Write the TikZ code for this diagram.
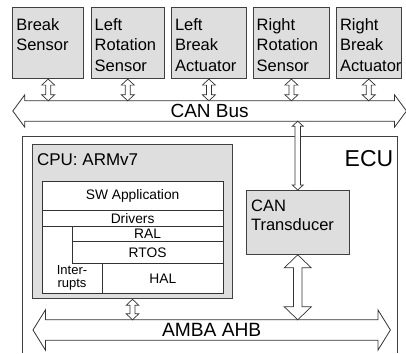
\documentclass[tikz,border=0pt]{standalone}
\usepackage{fontspec}
\setmainfont{Liberation Sans}
\usetikzlibrary{positioning}
\usetikzlibrary{calc}

% hollow double arrow between two points on one vertical
\newcommand{\vlink}[5]{%
  \draw[linkarrow] let \p1=(#1), \p2=(#2) in
    (\x1,\y1) -- (\x1+#4,\y1-#5) -- (\x1+#3,\y1-#5) -- (\x1+#3,\y2+#5)
    -- (\x1+#4,\y2+#5) -- (\x1,\y2) -- (\x1-#4,\y2+#5) -- (\x1-#3,\y2+#5)
    -- (\x1-#3,\y1-#5) -- (\x1-#4,\y1-#5) -- cycle;}

% bus outline round a (shaft) node
\newcommand{\hbus}[3]{%
  \draw[busline] let \p1=(#1.north west), \p2=(#1.south east), \p3=(#1.west) in
    (\x1-#2,\y3) -- (\x1,\y1+#3) -- (\x1,\y1) -- (\x2,\y1) -- (\x2,\y1+#3)
    -- (\x2+#2,\y3) -- (\x2,\y2-#3) -- (\x2,\y2) -- (\x1,\y2) -- (\x1,\y2-#3) -- cycle;}

\begin{document}
\begin{tikzpicture}[x=1pt,y=-1pt,
  box/.style={draw=black!75, fill=black!13, line width=0.8pt, anchor=north west, inner sep=0pt},
  boxtext/.style={align=left, inner sep=0pt, font=\fontsize{16.5}{20.5}\selectfont},
  layer/.style={draw=black!80, fill=white, line width=0.8pt, anchor=north west, inner sep=0pt,
    font=\fontsize{13.8}{14}\selectfont},
  busline/.style={draw=black!80, line width=0.8pt, line join=miter},
  linkarrow/.style={draw=black!80, fill=white, line width=0.7pt},
  frame/.style={draw=black!75, line width=0.8pt}]

\useasboundingbox (0,0) rectangle (406,353);

% sensors and actuators
\node[box, minimum width=71, minimum height=71] (bs) at (12.3,7.3) {};
\node[box, minimum width=73.3, minimum height=71] (lrs) at (90.7,7.3) {};
\node[box, minimum width=75, minimum height=71] (lba) at (171,7.3) {};
\node[box, minimum width=76.6, minimum height=71] (rrs) at (252.7,7.3) {};
\node[box, minimum width=64.7, minimum height=71] (rba) at (336,7.3) {};

\node[boxtext, below right=11pt and 3.8pt of bs.north west] (bstext) {Break\\Sensor};
\node[boxtext, below right=11pt and 3.8pt of lrs.north west] (lrstext) {Left\\Rotation\\Sensor};
\node[boxtext, below right=11pt and 3.8pt of lba.north west] (lbatext) {Left\\Break\\Actuator};
\node[boxtext, below right=11pt and 3.8pt of rrs.north west] (rrstext) {Right\\Rotation\\Sensor};
\node[boxtext, below right=11pt and 3.8pt of rba.north west] (rbatext) {Right\\Break\\Actuator};

% CAN bus
\node[minimum width=369.3, minimum height=20, inner sep=0pt, font=\fontsize{19}{22}\selectfont]
  (canbus) at (209.65,111) {CAN Bus};
\hbus{canbus}{12pt}{6pt}

% ECU
\coordinate (ecusw) at (22.3,353);
\coordinate (ecunw) at (22.3,136.7);
\coordinate (ecune) at (397.7,136.7);
\coordinate (ecuse) at (397.7,353);
\draw[frame] (ecusw) -- (ecunw) -- (ecune) -- (ecuse);
\node[anchor=north east, inner sep=0pt, font=\fontsize{23}{26}\selectfont,
  below left=13.3pt and 4.2pt of ecune] (ecu) {ECU};

% CPU
\node[box, line width=1pt, minimum width=200.6, minimum height=154] (cpu) at (31.7,144.3) {};
\node[inner sep=0pt, font=\fontsize{17}{20}\selectfont, below right=8.7pt and 5.2pt of cpu.north west]
  (cputext) {CPU: ARMv7};

\node[layer, minimum width=181, minimum height=111.7] (stack) at (41.7,181) {};
\node[layer, minimum width=181, minimum height=29] (swapp) at (41.7,181) {SW Application};
\node[layer, minimum width=181, minimum height=15.7] (drivers) at (41.7,210) {Drivers};
\node[layer, minimum width=151, minimum height=15] (ral) at (71.7,225.7) {RAL};
\node[layer, minimum width=151, minimum height=22.6] (rtos) at (71.7,240.7) {RTOS};
\node[layer, minimum width=120.4, minimum height=29.4] (hal) at (102.3,263.3) {HAL};
\node[align=center, inner sep=0pt, font=\fontsize{13}{13.5}\selectfont] (irq) at (72,278) {Inter-\\rupts};

% CAN transducer
\node[box, minimum width=103.3, minimum height=64] (trans) at (245.7,190) {};
\node[boxtext, font=\fontsize{16.5}{19}\selectfont, below right=10pt and 5.2pt of trans.north west]
  (transtext) {CAN\\Transducer};

% AMBA AHB
\node[minimum width=332, minimum height=20, inner sep=0pt, font=\fontsize{19.2}{22}\selectfont]
  (amba) at (211.7,330) {AMBA AHB};
\hbus{amba}{12.5pt}{10pt}

% links
\vlink{bs.south}{bs.south |- canbus.north}{2.5pt}{6.5pt}{6pt}
\vlink{lrs.south}{lrs.south |- canbus.north}{2.5pt}{6.5pt}{6pt}
\vlink{lba.south}{lba.south |- canbus.north}{2.5pt}{6.5pt}{6pt}
\vlink{rrs.south}{rrs.south |- canbus.north}{2.5pt}{6.5pt}{6pt}
\vlink{rba.south}{rba.south |- canbus.north}{2.5pt}{6.5pt}{6pt}
\vlink{trans.north |- canbus.south}{trans.north}{2.8pt}{5.5pt}{5pt}
\vlink{trans.south}{trans.south |- amba.north}{4.2pt}{13.5pt}{13pt}
\vlink{cpu.south}{cpu.south |- amba.north}{2.5pt}{6.3pt}{6pt}

\end{tikzpicture}
\end{document}
